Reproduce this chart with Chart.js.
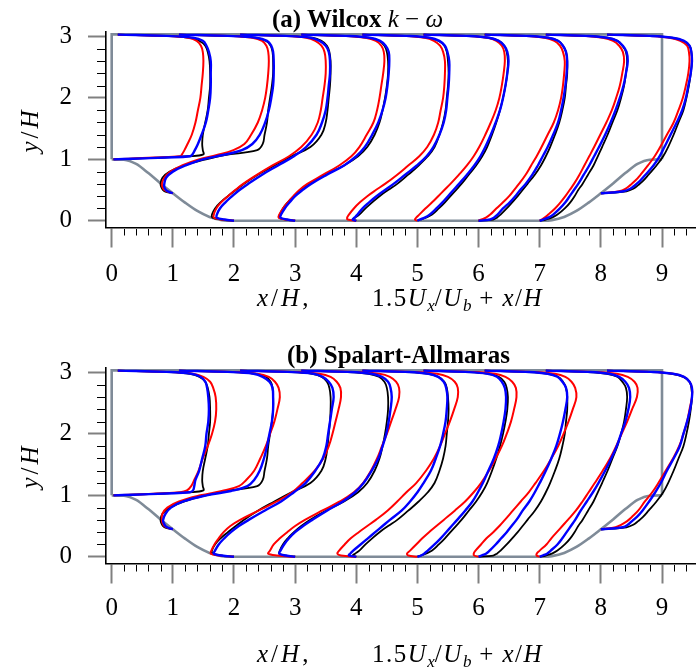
<!DOCTYPE html>
<html lang="en">
<head>
<meta charset="UTF-8">
<title>Periodic hill velocity profiles</title>
<script src="https://cdn.jsdelivr.net/npm/chart.js@4.4.1/dist/chart.umd.min.js"></script>
<style>
    body { margin: 0; background: #fff; }
    #page { position: relative; width: 696px; height: 667px; font-family: "Liberation Serif", "DejaVu Serif", serif; color: #000; }
    canvas { position: absolute; left: 0; }
    .label { position: absolute; white-space: nowrap; font-size: 25px; line-height: 1; }
    .title { font-weight: bold; }
    .title .m { font-weight: normal; }
    .math { letter-spacing: 1.5px; }
    .ylab { transform: translate(-50%, -50%) rotate(-90deg); letter-spacing: 3px; }
    sub { font-size: 17px; line-height: 0; vertical-align: -5px; letter-spacing: 0; }
</style>
</head>
<body>
<div id="page">
    <canvas id="chartA" style="top:0" width="696" height="330"></canvas>
    <canvas id="chartB" style="top:330px" width="696" height="337"></canvas>

    <div class="label title" style="left:272px; top:6px">(a) Wilcox <i class="m">k</i> <span class="m">&minus;</span> <i class="m">&omega;</i></div>
    <div class="label ylab" style="left:29px; top:130px"><i>y</i>/<i>H</i></div>
    <div class="label math" style="left:257px; top:285px; letter-spacing:3px"><i>x</i>/<i>H</i>,</div>
    <div class="label math" style="left:372px; top:285px">1.5<i>U</i><sub><i>x</i></sub>/<i>U</i><sub><i>b</i></sub>&nbsp;+&nbsp;<i>x</i>/<i>H</i></div>

    <div class="label title" style="left:287px; top:342px">(b) Spalart-Allmaras</div>
    <div class="label ylab" style="left:29px; top:466px"><i>y</i>/<i>H</i></div>
    <div class="label math" style="left:257px; top:641px; letter-spacing:3px"><i>x</i>/<i>H</i>,</div>
    <div class="label math" style="left:372px; top:641px">1.5<i>U</i><sub><i>x</i></sub>/<i>U</i><sub><i>b</i></sub>&nbsp;+&nbsp;<i>x</i>/<i>H</i></div>
</div>

<script>
// ---- data ----

const xTicks = [0, 1, 2, 3, 4, 5, 6, 7, 8, 9];
const yTicks = [0, 1, 2, 3];
const minorStep = 0.2;

// profile stations x/H
const stations = [0, 1, 2, 3, 4, 5, 6, 7, 8];

// hill and channel outline
const hillX = [0, 0.2, 0.4, 0.6, 0.8, 1.0, 1.2, 1.4, 1.6, 1.8, 1.93, 7.07, 7.2, 7.4, 7.6, 7.8, 8.0, 8.2, 8.4, 8.6, 8.8, 9.0];
const hillY = [1.0, 0.994, 0.925, 0.776, 0.607, 0.448, 0.295, 0.159, 0.062, 0.01, 0, 0, 0.01, 0.062, 0.159, 0.295, 0.448, 0.607, 0.776, 0.925, 0.994, 1.0];
const wallX = [0, 0, 9, 9];
const wallY = [1, 3.035, 3.035, 1];

// y/H levels of each station
const yMid = [0, 0.02, 0.05, 0.1, 0.2, 0.3, 0.4, 0.5, 0.6, 0.75, 0.9, 1.05, 1.2, 1.4, 1.6, 1.8, 2.0, 2.2, 2.4, 2.6, 2.75, 2.85, 2.93, 2.98, 3.01, 3.03];
const yProfile = [
    [1.0, 1.01, 1.03, 1.05, 1.08, 1.15, 1.25, 1.4, 1.6, 1.8, 2.0, 2.2, 2.4, 2.6, 2.75, 2.85, 2.93, 2.98, 3.01, 3.03],
    [0.448, 0.47, 0.5, 0.55, 0.6, 0.7, 0.8, 0.9, 1.0, 1.07, 1.15, 1.25, 1.4, 1.6, 1.8, 2.0, 2.2, 2.4, 2.6, 2.75, 2.85, 2.93, 2.98, 3.01, 3.03],
    yMid, yMid, yMid, yMid, yMid, yMid,
    [0.448, 0.46, 0.48, 0.52, 0.58, 0.65, 0.75, 0.9, 1.05, 1.2, 1.4, 1.6, 1.8, 2.0, 2.2, 2.4, 2.6, 2.75, 2.85, 2.93, 2.98, 3.01, 3.03]
];

// 1.5 Ux/Ub at those levels - reference (black)
const uRef = [
    [0.03, 0.35, 0.85, 1.25, 1.5, 1.49, 1.48, 1.49, 1.53, 1.57, 1.59, 1.61, 1.61, 1.6, 1.57, 1.53, 1.43, 1.28, 0.9, 0.1],
    [0, -0.11, -0.16, -0.19, -0.2, -0.17, -0.05, 0.19, 0.54, 0.85, 1.38, 1.47, 1.5, 1.54, 1.56, 1.59, 1.62, 1.64, 1.64, 1.63, 1.6, 1.52, 1.35, 0.9, 0.1],
    [0, -0.2, -0.35, -0.36, -0.31, -0.22, -0.1, 0.03, 0.16, 0.39, 0.66, 0.94, 1.25, 1.43, 1.5, 1.53, 1.55, 1.57, 1.58, 1.58, 1.56, 1.52, 1.43, 1.28, 0.88, 0.1],
    [0, -0.15, -0.26, -0.25, -0.2, -0.12, -0.02, 0.1, 0.24, 0.5, 0.8, 1.03, 1.18, 1.3, 1.38, 1.43, 1.47, 1.5, 1.52, 1.52, 1.5, 1.46, 1.37, 1.2, 0.82, 0.1],
    [0, -0.06, -0.02, 0.05, 0.15, 0.26, 0.38, 0.52, 0.67, 0.85, 1.02, 1.17, 1.28, 1.36, 1.42, 1.46, 1.48, 1.5, 1.51, 1.5, 1.48, 1.44, 1.34, 1.18, 0.8, 0.1],
    [0, 0.05, 0.14, 0.24, 0.35, 0.45, 0.54, 0.63, 0.72, 0.84, 0.96, 1.06, 1.14, 1.22, 1.29, 1.35, 1.4, 1.44, 1.47, 1.48, 1.46, 1.42, 1.33, 1.17, 0.8, 0.1],
    [0, 0.24, 0.3, 0.36, 0.46, 0.55, 0.64, 0.72, 0.8, 0.92, 1.02, 1.1, 1.17, 1.25, 1.32, 1.37, 1.41, 1.43, 1.45, 1.45, 1.43, 1.38, 1.3, 1.14, 0.78, 0.1],
    [0, 0.1, 0.2, 0.29, 0.41, 0.5, 0.57, 0.63, 0.7, 0.79, 0.88, 0.95, 1.02, 1.11, 1.19, 1.27, 1.33, 1.38, 1.41, 1.43, 1.41, 1.35, 1.27, 1.1, 0.76, 0.1],
    [0, 0.2, 0.42, 0.53, 0.61, 0.69, 0.78, 0.91, 1.02, 1.1, 1.19, 1.27, 1.35, 1.4, 1.44, 1.47, 1.49, 1.48, 1.45, 1.35, 1.16, 0.8, 0.1]
];

// panel (a) Wilcox k-omega: red and blue
const uWilcoxRed = [
    [0.03, 0.3, 0.7, 1.12, 1.15, 1.19, 1.24, 1.31, 1.37, 1.41, 1.45, 1.47, 1.49, 1.5, 1.49, 1.46, 1.39, 1.25, 0.85, 0.1],
    [0, -0.07, -0.14, -0.17, -0.18, -0.14, -0.04, 0.15, 0.42, 0.72, 0.99, 1.17, 1.28, 1.39, 1.46, 1.51, 1.54, 1.56, 1.57, 1.56, 1.53, 1.46, 1.3, 0.9, 0.1],
    [0, -0.2, -0.33, -0.33, -0.29, -0.21, -0.1, 0.02, 0.15, 0.38, 0.63, 0.9, 1.1, 1.27, 1.37, 1.42, 1.45, 1.48, 1.5, 1.5, 1.48, 1.43, 1.33, 1.18, 0.8, 0.1],
    [0, -0.15, -0.27, -0.26, -0.2, -0.12, -0.03, 0.07, 0.2, 0.46, 0.72, 0.92, 1.05, 1.17, 1.28, 1.34, 1.38, 1.41, 1.44, 1.46, 1.45, 1.41, 1.32, 1.15, 0.78, 0.1],
    [0, -0.14, -0.15, -0.12, -0.04, 0.06, 0.18, 0.32, 0.47, 0.67, 0.85, 1.03, 1.16, 1.27, 1.34, 1.38, 1.42, 1.44, 1.45, 1.45, 1.42, 1.37, 1.27, 1.12, 0.78, 0.1],
    [0, -0.04, -0.02, 0.03, 0.13, 0.24, 0.34, 0.44, 0.54, 0.68, 0.81, 0.92, 1.01, 1.11, 1.2, 1.28, 1.34, 1.38, 1.41, 1.43, 1.42, 1.38, 1.29, 1.14, 0.78, 0.1],
    [0, 0.05, 0.12, 0.19, 0.29, 0.4, 0.5, 0.58, 0.66, 0.77, 0.86, 0.95, 1.03, 1.13, 1.23, 1.3, 1.35, 1.38, 1.4, 1.41, 1.38, 1.33, 1.24, 1.08, 0.74, 0.1],
    [0, 0.03, 0.08, 0.14, 0.25, 0.34, 0.42, 0.49, 0.56, 0.65, 0.73, 0.81, 0.89, 0.99, 1.09, 1.18, 1.25, 1.31, 1.35, 1.38, 1.36, 1.3, 1.2, 1.03, 0.7, 0.1],
    [0, 0.15, 0.3, 0.4, 0.48, 0.56, 0.65, 0.77, 0.88, 0.97, 1.08, 1.19, 1.27, 1.34, 1.39, 1.43, 1.45, 1.44, 1.41, 1.3, 1.12, 0.76, 0.1]
];
const uWilcoxBlue = [
    [0.03, 0.35, 0.9, 1.28, 1.32, 1.36, 1.41, 1.47, 1.54, 1.58, 1.61, 1.62, 1.62, 1.62, 1.59, 1.55, 1.49, 1.33, 0.9, 0.1],
    [0, -0.06, -0.11, -0.14, -0.14, -0.11, 0.0, 0.21, 0.49, 0.82, 1.13, 1.3, 1.42, 1.51, 1.57, 1.61, 1.64, 1.65, 1.65, 1.64, 1.61, 1.54, 1.36, 0.9, 0.1],
    [0, -0.15, -0.28, -0.28, -0.23, -0.14, -0.03, 0.09, 0.23, 0.46, 0.72, 0.98, 1.18, 1.35, 1.44, 1.5, 1.53, 1.55, 1.57, 1.57, 1.55, 1.5, 1.4, 1.25, 0.85, 0.1],
    [0, -0.13, -0.24, -0.23, -0.17, -0.09, 0.0, 0.12, 0.26, 0.52, 0.8, 1.0, 1.14, 1.26, 1.36, 1.43, 1.48, 1.51, 1.53, 1.54, 1.53, 1.48, 1.39, 1.22, 0.83, 0.1],
    [0, -0.06, -0.03, 0.02, 0.1, 0.21, 0.33, 0.47, 0.61, 0.8, 0.99, 1.15, 1.26, 1.36, 1.43, 1.47, 1.49, 1.51, 1.52, 1.52, 1.49, 1.45, 1.36, 1.2, 0.82, 0.1],
    [0, 0.04, 0.12, 0.2, 0.31, 0.41, 0.5, 0.59, 0.68, 0.81, 0.93, 1.03, 1.11, 1.2, 1.28, 1.35, 1.4, 1.44, 1.47, 1.49, 1.47, 1.42, 1.33, 1.17, 0.8, 0.1],
    [0, 0.19, 0.25, 0.31, 0.4, 0.51, 0.6, 0.68, 0.77, 0.88, 0.97, 1.05, 1.13, 1.22, 1.3, 1.35, 1.39, 1.42, 1.44, 1.45, 1.43, 1.38, 1.3, 1.14, 0.78, 0.1],
    [0, 0.06, 0.14, 0.22, 0.33, 0.42, 0.49, 0.56, 0.63, 0.72, 0.81, 0.89, 0.97, 1.07, 1.16, 1.24, 1.31, 1.37, 1.41, 1.44, 1.42, 1.36, 1.27, 1.1, 0.76, 0.1],
    [0, 0.18, 0.37, 0.48, 0.56, 0.64, 0.73, 0.86, 0.96, 1.04, 1.14, 1.24, 1.33, 1.39, 1.43, 1.47, 1.49, 1.48, 1.45, 1.36, 1.17, 0.8, 0.1]
];

// panel (b) Spalart-Allmaras: red and blue
const uSARed = [
    [0.03, 0.3, 0.75, 1.12, 1.23, 1.3, 1.35, 1.42, 1.49, 1.57, 1.64, 1.69, 1.71, 1.7, 1.66, 1.61, 1.5, 1.33, 0.9, 0.1],
    [0, -0.08, -0.14, -0.17, -0.18, -0.17, -0.09, 0.1, 0.45, 0.8, 1.08, 1.2, 1.33, 1.43, 1.52, 1.59, 1.66, 1.71, 1.75, 1.73, 1.67, 1.57, 1.38, 0.95, 0.1],
    [0, -0.25, -0.38, -0.37, -0.32, -0.25, -0.17, -0.06, 0.1, 0.4, 0.7, 0.95, 1.12, 1.32, 1.46, 1.55, 1.61, 1.66, 1.71, 1.75, 1.74, 1.68, 1.58, 1.4, 0.95, 0.1],
    [0, -0.3, -0.44, -0.41, -0.35, -0.25, -0.13, 0.0, 0.16, 0.44, 0.73, 0.96, 1.11, 1.24, 1.34, 1.42, 1.5, 1.57, 1.64, 1.7, 1.7, 1.65, 1.55, 1.38, 0.95, 0.1],
    [0, -0.25, -0.31, -0.28, -0.19, -0.09, 0.04, 0.18, 0.32, 0.51, 0.67, 0.82, 0.98, 1.14, 1.27, 1.37, 1.45, 1.53, 1.6, 1.66, 1.66, 1.61, 1.5, 1.32, 0.9, 0.1],
    [0, -0.15, -0.17, -0.12, -0.02, 0.08, 0.19, 0.31, 0.43, 0.61, 0.78, 0.92, 1.04, 1.17, 1.28, 1.38, 1.46, 1.53, 1.58, 1.62, 1.61, 1.55, 1.44, 1.27, 0.88, 0.1],
    [0, -0.07, -0.08, -0.05, 0.04, 0.13, 0.24, 0.34, 0.43, 0.56, 0.69, 0.82, 0.93, 1.07, 1.19, 1.3, 1.39, 1.47, 1.54, 1.6, 1.58, 1.52, 1.42, 1.25, 0.86, 0.1],
    [0, -0.05, -0.05, 0.0, 0.11, 0.19, 0.28, 0.37, 0.46, 0.59, 0.7, 0.8, 0.9, 1.03, 1.15, 1.25, 1.34, 1.43, 1.51, 1.59, 1.6, 1.55, 1.44, 1.26, 0.86, 0.1],
    [0, 0.1, 0.24, 0.33, 0.43, 0.51, 0.61, 0.72, 0.84, 0.94, 1.06, 1.18, 1.28, 1.35, 1.41, 1.45, 1.49, 1.49, 1.45, 1.36, 1.18, 0.82, 0.1]
];
const uSABlue = [
    [0.03, 0.35, 0.9, 1.28, 1.33, 1.35, 1.37, 1.43, 1.48, 1.53, 1.55, 1.58, 1.59, 1.58, 1.56, 1.53, 1.45, 1.3, 0.9, 0.1],
    [0, -0.07, -0.12, -0.15, -0.16, -0.12, -0.03, 0.17, 0.55, 0.95, 1.22, 1.33, 1.42, 1.49, 1.54, 1.58, 1.62, 1.64, 1.64, 1.63, 1.58, 1.47, 1.32, 0.9, 0.1],
    [0, -0.2, -0.33, -0.31, -0.25, -0.16, -0.05, 0.08, 0.24, 0.5, 0.77, 0.98, 1.17, 1.33, 1.45, 1.51, 1.54, 1.57, 1.6, 1.63, 1.61, 1.55, 1.45, 1.3, 0.88, 0.1],
    [0, -0.15, -0.26, -0.24, -0.18, -0.1, 0.0, 0.13, 0.28, 0.52, 0.78, 0.98, 1.12, 1.25, 1.36, 1.43, 1.49, 1.53, 1.56, 1.58, 1.56, 1.52, 1.42, 1.25, 0.85, 0.1],
    [0, -0.12, -0.1, -0.05, 0.07, 0.19, 0.31, 0.43, 0.55, 0.74, 0.88, 1.0, 1.1, 1.22, 1.3, 1.37, 1.42, 1.46, 1.48, 1.49, 1.47, 1.43, 1.34, 1.18, 0.8, 0.1],
    [0, 0.06, 0.11, 0.17, 0.28, 0.38, 0.47, 0.56, 0.65, 0.78, 0.9, 0.99, 1.07, 1.16, 1.25, 1.32, 1.37, 1.41, 1.44, 1.45, 1.43, 1.38, 1.3, 1.15, 0.78, 0.1],
    [0, 0.05, 0.12, 0.18, 0.28, 0.37, 0.46, 0.54, 0.62, 0.72, 0.83, 0.92, 1.0, 1.1, 1.19, 1.27, 1.33, 1.38, 1.42, 1.45, 1.43, 1.37, 1.29, 1.13, 0.77, 0.1],
    [0, 0.05, 0.12, 0.18, 0.29, 0.37, 0.44, 0.51, 0.58, 0.67, 0.77, 0.87, 0.96, 1.07, 1.17, 1.26, 1.33, 1.4, 1.45, 1.48, 1.46, 1.4, 1.3, 1.14, 0.78, 0.1],
    [0, 0.17, 0.36, 0.44, 0.51, 0.59, 0.68, 0.79, 0.89, 0.98, 1.08, 1.19, 1.29, 1.35, 1.41, 1.46, 1.49, 1.49, 1.45, 1.36, 1.18, 0.82, 0.1]
];

// ---- drawing ----

const GRAY = '#7f8b98';
const FONT = { family: 'Liberation Serif', size: 25 };

function profilePoints(i, u) {
    return yProfile[i].map((y, k) => ({ x: stations[i] + u[i][k], y: y }));
}

function profileLine(points, color, width, order) {
    return {
        data: points,
        indexAxis: 'y',
        borderColor: color,
        borderWidth: width,
        borderJoinStyle: 'round',
        tension: 0.4,
        pointRadius: 0,
        order: order
    };
}

function buildDatasets(redU, blueU) {
    const sets = [
        {
            data: hillX.map((x, k) => ({ x: x, y: hillY[k] })),
            borderColor: GRAY, borderWidth: 2.6,
            cubicInterpolationMode: 'monotone', pointRadius: 0, order: 4
        },
        {
            data: wallX.map((x, k) => ({ x: x, y: wallY[k] })),
            borderColor: GRAY, borderWidth: 2.6,
            tension: 0, pointRadius: 0, order: 4
        }
    ];
    stations.forEach((s, i) => {
        sets.push(profileLine(profilePoints(i, uRef), '#000000', 1.8, 3));
        sets.push(profileLine(profilePoints(i, redU), '#ff0000', 2.0, 2));
        sets.push(profileLine(profilePoints(i, blueU), '#0000ff', 2.4, 1));
    });
    return sets;
}

// short black minor ticks every 0.2 outside the spines
const minorTicks = {
    id: 'minorTicks',
    afterDraw(chart) {
        const { ctx, chartArea, scales: { x, y } } = chart;
        ctx.save();
        ctx.strokeStyle = '#000';
        ctx.lineWidth = 1;
        ctx.beginPath();
        for (let i = 1; i * minorStep < x.max; i++) {
            if (i % 5 === 0) continue;
            const px = Math.round(x.getPixelForValue(i * minorStep)) + 0.5;
            ctx.moveTo(px, chartArea.bottom + 1.5);
            ctx.lineTo(px, chartArea.bottom + 8);
        }
        for (let i = 1; i * minorStep < 3; i++) {
            if (i % 5 === 0) continue;
            const py = Math.round(y.getPixelForValue(i * minorStep)) + 0.5;
            ctx.moveTo(chartArea.left - 9, py);
            ctx.lineTo(chartArea.left - 1, py);
        }
        ctx.stroke();
        ctx.restore();
    }
};

function makeChart(id, redU, blueU, top, xAxisHeight, labelPad) {
    const ctx = document.getElementById(id).getContext('2d');
    return new Chart(ctx, {
        type: 'line',
        data: { datasets: buildDatasets(redU, blueU) },
        options: {
            responsive: false,
            animation: false,
            devicePixelRatio: 1,
            layout: { padding: { top: top, left: 0, right: 0, bottom: 0 } },
            plugins: { legend: { display: false }, tooltip: { enabled: false } },
            scales: {
                x: {
                    type: 'linear',
                    min: -0.093,
                    max: 9.556,
                    afterBuildTicks: s => { s.ticks = xTicks.map(v => ({ value: v })); },
                    afterFit: s => { s.height = xAxisHeight; },
                    ticks: { font: FONT, color: '#000', padding: labelPad, maxRotation: 0, autoSkip: false },
                    grid: { drawOnChartArea: false, tickLength: 20, tickColor: '#808080', tickWidth: 2 },
                    border: { color: '#000', width: 1.6 }
                },
                y: {
                    type: 'linear',
                    min: -0.11,
                    max: 3.08,
                    afterBuildTicks: s => { s.ticks = yTicks.map(v => ({ value: v })); },
                    afterFit: s => { s.width = 106; },
                    ticks: { font: FONT, color: '#000', padding: 16 },
                    grid: { drawOnChartArea: false, tickLength: 18, tickColor: '#808080', tickWidth: 2 },
                    border: { color: '#000', width: 1.6 }
                }
            }
        },
        plugins: [minorTicks]
    });
}

makeChart('chartA', uWilcoxRed, uWilcoxBlue, 31.6, 102.5, 12);
makeChart('chartB', uSARed, uSABlue, 37.6, 103.5, 10);
</script>
</body>
</html>
